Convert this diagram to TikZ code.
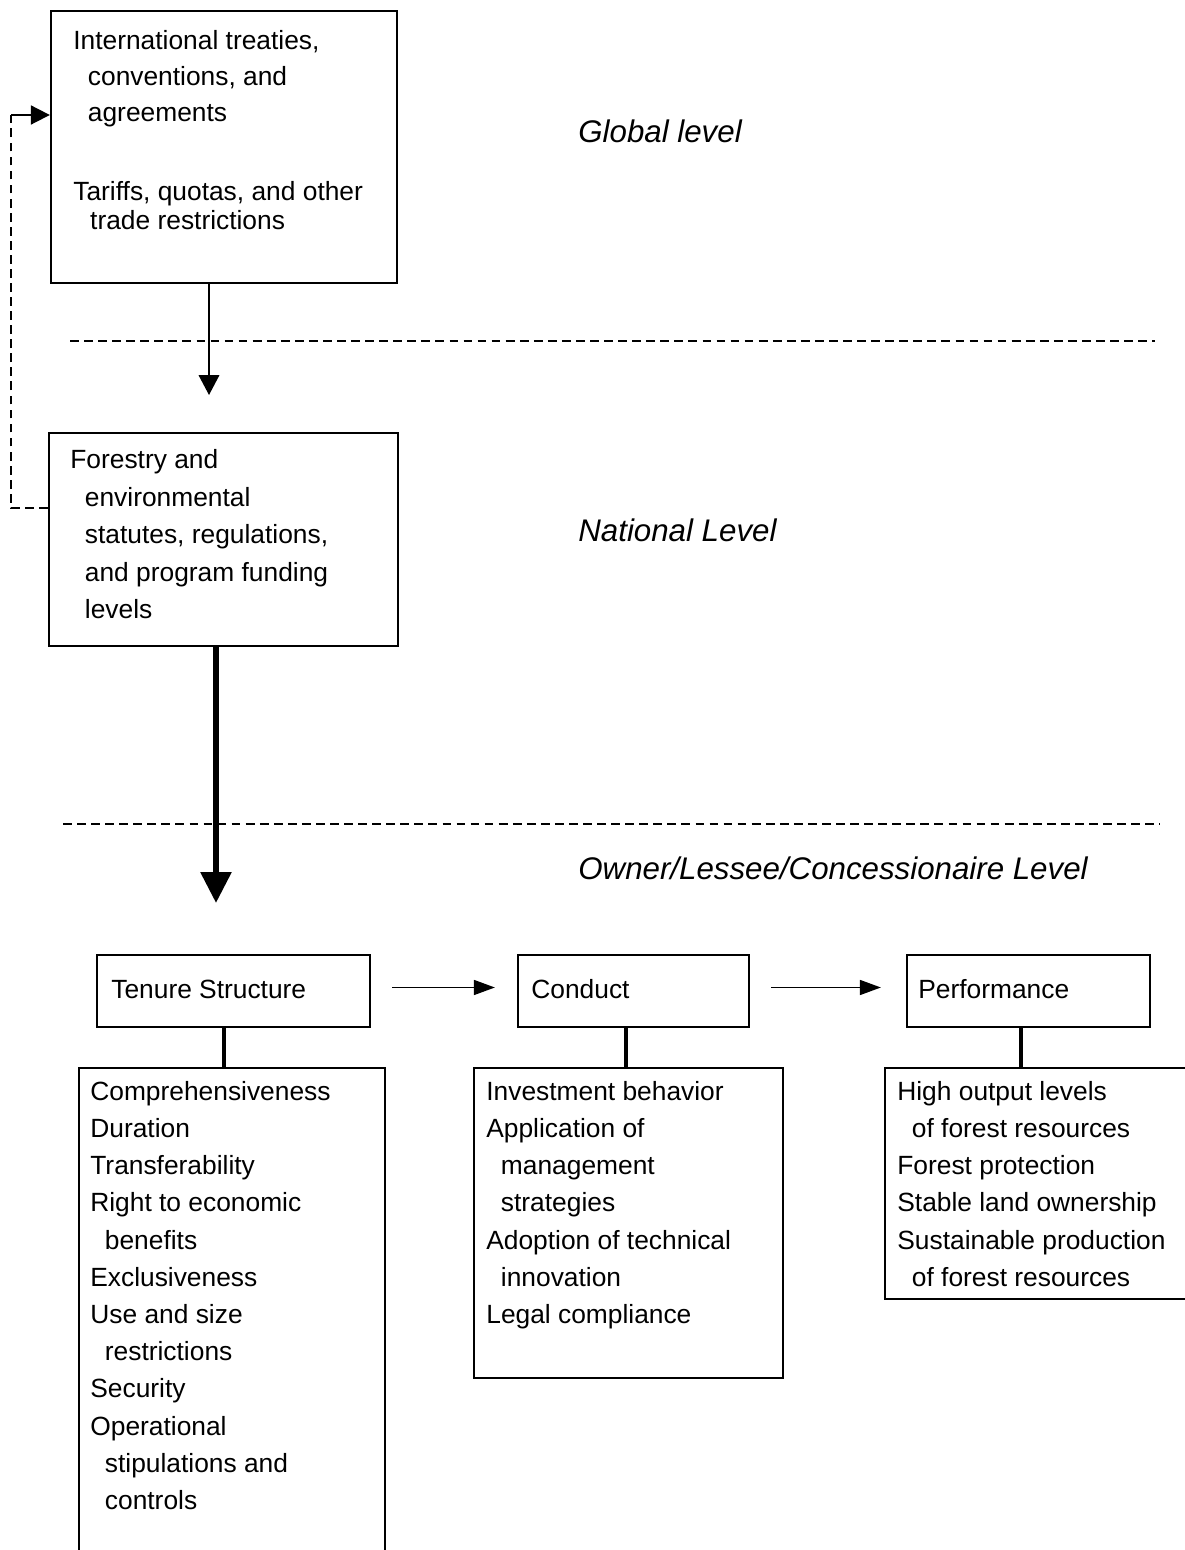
\documentclass[tikz,border=0pt]{standalone}
\usepackage{fontspec}
\setmainfont{Liberation Sans}
\usetikzlibrary{arrows.meta,fit}

% a block of left-aligned lines with a fixed baseline distance;
% the block's baseline is that of its first line
\newcommand\linestack[2]{\vtop{\baselineskip=#1\relax\lineskiplimit=-100pt\lineskip=0pt
  \halign{##\hfil\cr#2\crcr}}}
\newcommand\ind{\hskip8.3pt}

\begin{document}
\begin{tikzpicture}[x=0.02cm,y=-0.02cm,
  box/.style={draw,line width=1.3pt,inner sep=0pt,rectangle},
  txt/.style={inner sep=0pt,anchor=base west,font=\fontsize{15pt}{21.2pt}\selectfont},
  level/.style={inner sep=0pt,anchor=base west,font=\fontsize{17.8pt}{22pt}\selectfont\itshape},
  divider/.style={dash pattern=on 5pt off 3pt,line width=0.85pt},
  thin arrow/.style={line width=0.95pt,-{Triangle[length=11.3pt,width=11.7pt]}},
  flow arrow/.style={line width=1.1pt,-{Triangle[length=12pt,width=8.5pt]}},
  heavy arrow/.style={line width=3.4pt,-{Triangle[length=17.6pt,width=17pt]}},
  stem/.style={line width=2.8pt}]

\useasboundingbox[fill=white] (0,0) rectangle (1185,1550);

% ---- global level
\node[box,fit={(51,11)(397,283)}] (global) {};
\node[txt] (globaltxtA) at (73,50) {\linestack{20.4pt}{International treaties,\cr
  \ind conventions, and\cr\ind agreements}};
\node[txt] (globaltxtB) at (73,201) {\linestack{16.4pt}{Tariffs, quotas, and other\cr
  \hskip9.6pt trade restrictions}};
\node[level] (lvlglobal) at (578,143) {Global level};

\draw[divider] (70,341) -- (1155,341);

% ---- national level
\node[box,fit={(49,433)(398,646)}] (national) {};
\node[txt] (nationaltxt) at (70,469) {\linestack{21.26pt}{Forestry and\cr
  \ind environmental\cr\ind statutes, regulations,\cr\ind and program funding\cr\ind levels}};
\node[level] (lvlnational) at (578,541) {National Level};

\draw[divider] (63,824) -- (1160,824);

% ---- owner level
\node[level] (lvlowner) at (578,879) {Owner/Lessee/Concessionaire Level};

\node[box,fit={(97,955)(370,1027)}] (tenure) {};
\node[txt] (tenurelbl) at (111,998) {Tenure Structure};
\node[box,fit={(518,955)(749,1027)}] (conduct) {};
\node[txt] (conductlbl) at (531,998) {Conduct};
\node[box,fit={(907,955)(1150,1027)}] (perf) {};
\node[txt] (perflbl) at (918,998) {Performance};

\node[box,fit={(79,1068)(385,1590)}] (tenuredet) {};
\node[txt] (tenurelist) at (90,1100) {\linestack{21.2pt}{Comprehensiveness\cr Duration\cr
  Transferability\cr Right to economic\cr\ind benefits\cr Exclusiveness\cr Use and size\cr
  \ind restrictions\cr Security\cr Operational\cr\ind stipulations and\cr\ind controls}};
\node[box,fit={(474,1068)(783,1378)}] (conductdet) {};
\node[txt] (conductlist) at (486,1100) {\linestack{21.2pt}{Investment behavior\cr
  Application of\cr\ind management\cr\ind strategies\cr Adoption of technical\cr
  \ind innovation\cr Legal compliance}};
\node[box,fit={(885,1068)(1215,1299)}] (perfdet) {};
\node[txt] (perflist) at (897,1100) {\linestack{21.2pt}{High output levels\cr
  \ind of forest resources\cr Forest protection\cr Stable land ownership\cr
  Sustainable production\cr\ind of forest resources}};

% ---- connectors
\coordinate (g2ntip) at (209,395);
\draw[thin arrow] (global.south -| g2ntip) -- (g2ntip);

\coordinate (n2otip) at (216,903);
\draw[heavy arrow] (national.south -| n2otip) -- (n2otip);

\coordinate (fbturn) at (11,508);
\coordinate (fbtop) at (11,115);
\draw[divider] (national.west |- fbturn) -- (fbturn) -- (fbtop);
\draw[line width=1pt,-{Triangle[length=10.8pt,width=10.8pt]}] (fbtop) -- (global.west |- fbtop);

\draw[flow arrow,shorten <=11.9pt,shorten >=12.5pt]
  ([yshift=2pt]tenure.east) -- ([yshift=2pt]conduct.west);
\draw[flow arrow,shorten <=11.9pt,shorten >=14.2pt]
  ([yshift=2pt]conduct.east) -- ([yshift=2pt]perf.west);

\coordinate (tstem) at (224,0);
\coordinate (cstem) at (626,0);
\coordinate (pstem) at (1021,0);
\draw[stem] (tenure.south -| tstem) -- (tenuredet.north -| tstem);
\draw[stem] (conduct.south -| cstem) -- (conductdet.north -| cstem);
\draw[stem] (perf.south -| pstem) -- (perfdet.north -| pstem);
\end{tikzpicture}
\end{document}
